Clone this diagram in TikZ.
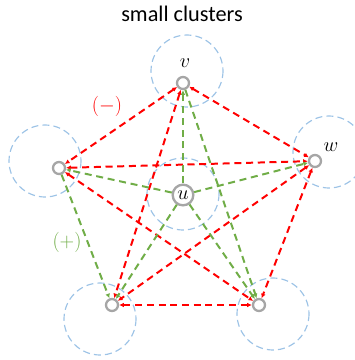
\documentclass[tikz,border=0pt]{standalone}
\usepackage{fontspec}
\newfontfamily\labelfont{Carlito}
\usetikzlibrary{arrows.meta}
\definecolor{negred}{HTML}{FF0000}
\definecolor{posgreen}{HTML}{70AD47}
\definecolor{halo}{HTML}{9DC3E6}
\definecolor{knot}{HTML}{A6A6A6}

\begin{document}
\begin{tikzpicture}[x=0.03cm,y=-0.03cm,
  vertex/.style={circle,draw=knot,line width=2pt,minimum size=0.36cm,inner sep=0pt},
  hub/.style={vertex,minimum size=0.62cm,font=\fontsize{18}{20}\selectfont},
  cluster/.style={draw=halo,line width=1pt,dash pattern=on 6pt off 3.5pt},
  link/.style={line width=1.7pt,dash pattern=on 6pt off 4pt},
  negedge/.style={link,negred,{Latex[length=1.4mm,width=1.4mm]}-{Latex[length=1.4mm,width=1.4mm]}},
  posedge/.style={link,posgreen,-{Latex[length=1.4mm,width=1.4mm]}},
  tag/.style={font=\fontsize{17}{20}\selectfont}]
\useasboundingbox (0,0) rectangle (354,360);
% --- clusters -----------------------------------------------------------
\foreach \cx/\cy in {187/71, 329/152, 45/161, 183/194, 100/319, 273/314} {
  \draw[cluster] (\cx,\cy) circle (36);
}
% --- vertices -----------------------------------------------------------
\node[vertex] (v) at (183,83) {};
\node[vertex] (w) at (315,161) {};
\node[vertex] (l) at (59,168) {};
\node[vertex] (bl) at (112,305) {};
\node[vertex] (br) at (259,305) {};
\node[hub] (u) at (183,195) {$u$};
% --- edges --------------------------------------------------------------
\foreach \a/\b in {v/l, v/w, v/bl, l/w, l/br, w/bl, w/br, bl/br} {
  \draw[negedge] (\a) -- (\b);
}
\draw[posedge] (v) -- (br);
\draw[posedge] (l) -- (bl);
\foreach \b in {v, w, l, bl, br} {
  \draw[posedge] (u) -- (\b);
}
% --- labels -------------------------------------------------------------
\node[font=\labelfont\fontsize{19}{22}\selectfont] (title) at (182,14) {small clusters};
\node[tag] (vlab) at (185,63) {$v$};
\node[tag] (wlab) at (331,147) {$w$};
\node[tag,font=\fontsize{18}{20}\selectfont,color=negred] (minus) at (107,106) {$(-)$};
\node[tag,font=\fontsize{18}{20}\selectfont,color=posgreen] (plus) at (67,242) {$(+)$};
\end{tikzpicture}
\end{document}
